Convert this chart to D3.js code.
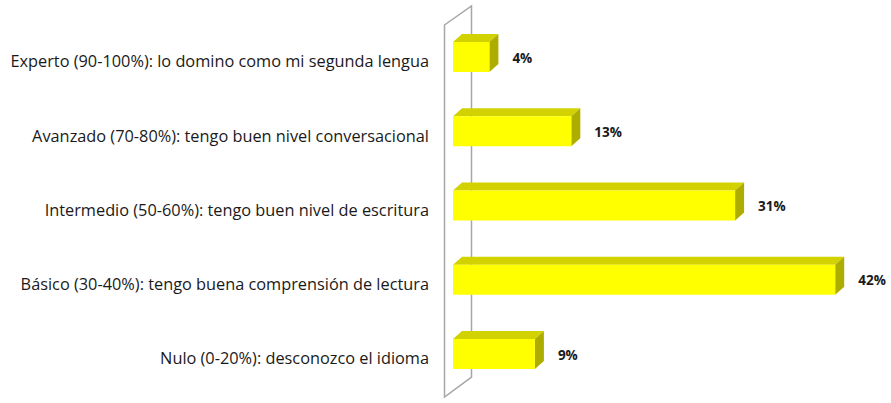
<!DOCTYPE html>
<html>
<head>
<meta charset="utf-8">
<script src="https://cdn.jsdelivr.net/npm/d3@7"></script>
<style>
  body { margin: 0; background: #fff; }
  svg { display: block; }
</style>
</head>
<body>
<figure id="chart" style="margin:0"></figure>
<script>
// data (top to bottom)
const categories = [
  "Experto (90-100%): lo domino como mi segunda lengua",
  "Avanzado (70-80%): tengo buen nivel conversacional",
  "Intermedio (50-60%): tengo buen nivel de escritura",
  "Básico (30-40%): tengo buena comprensión de lectura",
  "Nulo (0-20%): desconozco el idioma"
];
const values = [4, 13, 31, 42, 9];
const valueLabels = ["4%", "13%", "31%", "42%", "9%"];

const width = 891, height = 403;
const depth = { dx: 9, dy: -8 };
const barH = 30;

const svg = d3.select("#chart")
  .append("svg")
  .attr("width", width)
  .attr("height", height);

const xScale = d3.scaleLinear()
  .domain([0, 45])
  .range([453, 453 + 45 * 9.1]);

const yScale = d3.scalePoint()
  .domain(categories)
  .range([57, 354]);

// the back wall (3d frame of the category axis)
const x0 = xScale(0);
const wall = d3.path();
wall.moveTo(x0 - 8.5, 25);
wall.lineTo(x0 + 18.5, 6);
wall.lineTo(x0 + 18.5, 377);
wall.lineTo(x0 - 8.5, 397);
wall.closePath();
svg.append("path")
  .attr("d", wall.toString())
  .attr("fill", "none")
  .attr("stroke", "#a6a6a6")
  .attr("stroke-width", 1.5);

const data = categories.map((c, i) => ({ cat: c, v: values[i], label: valueLabels[i] }));

const bars = svg.selectAll("g.bar")
  .data(data)
  .enter()
  .append("g")
  .attr("class", "bar");

// top face
bars.append("path")
  .attr("fill", "#d2d200")
  .attr("d", d => {
    const xa = xScale(0), xb = xScale(d.v), yt = yScale(d.cat) - barH / 2;
    return `M${xa},${yt}L${xa + depth.dx},${yt + depth.dy}L${xb + depth.dx},${yt + depth.dy}L${xb},${yt}Z`;
  });

// side face
bars.append("path")
  .attr("fill", "#adad00")
  .attr("d", d => {
    const xb = xScale(d.v), yt = yScale(d.cat) - barH / 2;
    return `M${xb},${yt}L${xb + depth.dx},${yt + depth.dy}L${xb + depth.dx},${yt + barH + depth.dy}L${xb},${yt + barH}Z`;
  });

// front face
bars.append("rect")
  .attr("x", xScale(0))
  .attr("y", d => yScale(d.cat) - barH / 2)
  .attr("width", d => xScale(d.v) - xScale(0))
  .attr("height", barH)
  .attr("fill", "#ffff00");

// value labels
bars.append("text")
  .attr("x", d => xScale(d.v) + depth.dx + 14)
  .attr("y", d => yScale(d.cat) + 2)
  .attr("dominant-baseline", "middle")
  .attr("font-family", "'Open Sans', 'DejaVu Sans', sans-serif")
  .attr("font-weight", "bold")
  .attr("font-size", 13.5)
  .attr("fill", "#1a1a1a")
  .text(d => d.label);

// category labels
const catLabels = svg.selectAll("text.cat")
  .data(categories)
  .enter()
  .append("text")
  .attr("class", "cat")
  .attr("x", 429)
  .attr("y", d => yScale(d) + 6)
  .attr("text-anchor", "end")
  .attr("dominant-baseline", "middle")
  .attr("font-family", "'Open Sans', 'DejaVu Sans', sans-serif")
  .attr("font-size", 15)
  .attr("fill", "#1a1a1a")
  .text(d => d);

// the longest label runs from x≈10 to x≈429 in the reference; fit the font size to that
const longest = d3.max(catLabels.nodes(), n => n.getComputedTextLength());
catLabels.attr("font-size", 15 * 419 / longest);
</script>
</body>
</html>
